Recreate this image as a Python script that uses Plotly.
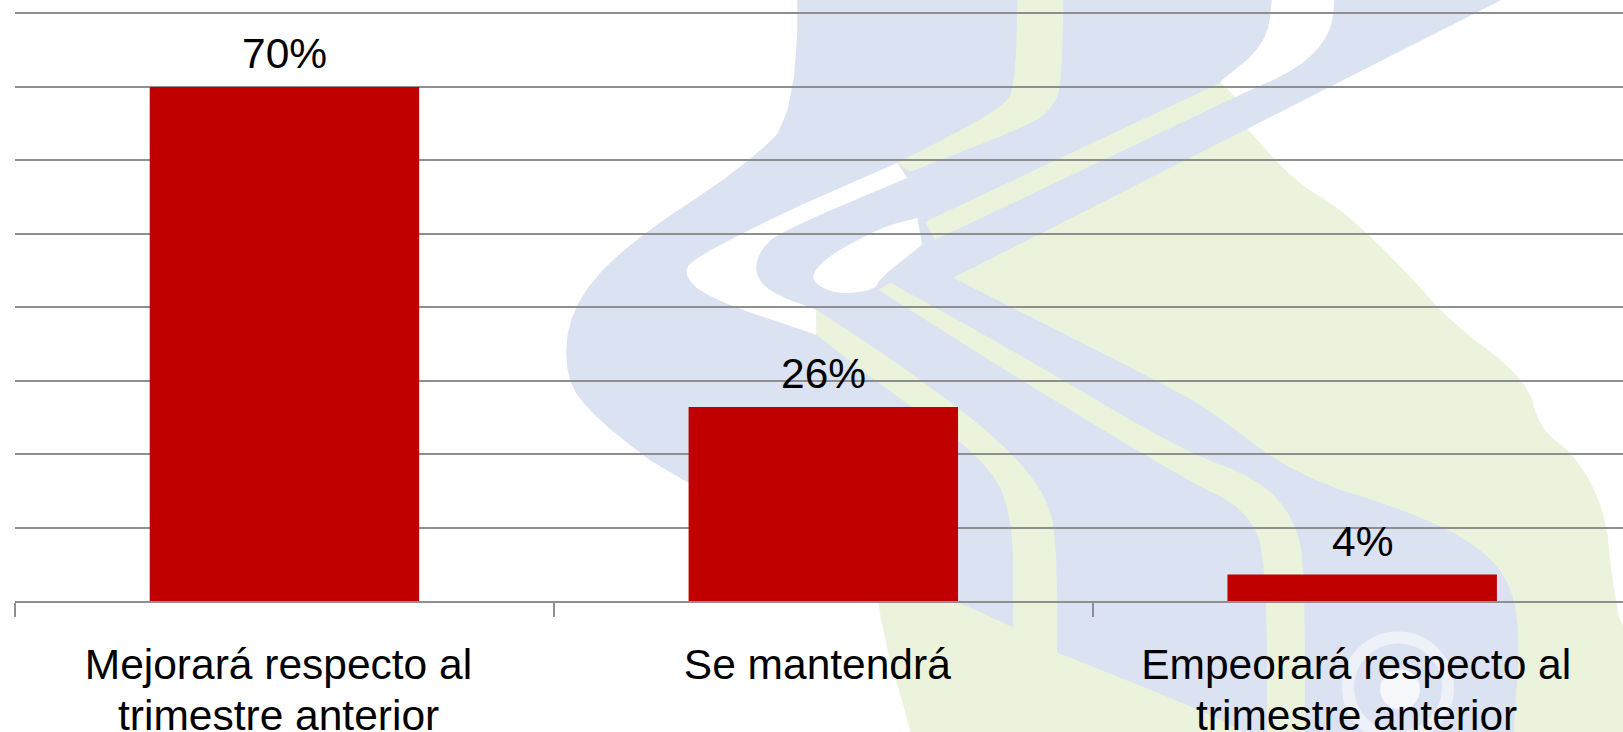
import plotly.graph_objects as go

# --- data -------------------------------------------------------------
categories = ["Mejorará respecto al", "Se mantendrá", "Empeorará respecto al"]
second_lines = ["trimestre anterior", "", "trimestre anterior"]
values = [70, 26.4, 3.6]
value_labels = ["70%", "26%", "4%"]

# --- layout constants ---------------------------------------------------
W, H = 1623, 732
L, R, T, B = 14.5, 0, 12.03, 130.5
BLUE, GREEN, WHITE = "#DBE2F1", "#EBF3DC", "#FFFFFF"
FONT = dict(size=42.5, color="#000000", family="Liberation Sans")
LINE = "#8F8F8F"


def to_paper(px, py):
    """page pixels -> paper fractions (background watermark only)"""
    return (px - L) / (W - L - R), 1 - (py - T) / (H - T - B)


def chaikin(points, rounds=2):
    for _ in range(rounds):
        out = []
        n = len(points)
        for i in range(n):
            (x0, y0), (x1, y1) = points[i], points[(i + 1) % n]
            out.append((0.75 * x0 + 0.25 * x1, 0.75 * y0 + 0.25 * y1))
            out.append((0.25 * x0 + 0.75 * x1, 0.25 * y0 + 0.75 * y1))
        points = out
    return points


def poly(points, color):
    path = []
    for i, (px, py) in enumerate(chaikin(points)):
        x, y = to_paper(px, py)
        path.append(("M" if i == 0 else "L") + f"{x:.5f},{y:.5f}")
    return dict(type="path", xref="paper", yref="paper", layer="below",
                path=" ".join(path) + " Z", fillcolor=color, line_width=0)


green_body = [(1240, 120), (1240, 120), (1247, 129), (1247, 129), (1294, 181), (1345, 212), (1408, 274), (1449, 321),
              (1527, 380), (1540, 430), (1575, 455), (1605, 510), (1612, 580), (1623, 640), (1700, 680), (1700, 800),
              (925, 800), (911, 732), (875, 610), (860, 400), (1000, 200)]
blue_all = [(797, -100), (797, -100), (797, 114), (745, 166), (621, 248), (569, 310), (564, 378), (595, 419),
            (683, 486), (957, 602), (1013, 628), (1013, 628), (1057, 653), (1057, 653), (1207, 713), (1267, 745),
            (1267, 800), (1513, 800), (1513, 732), (1520, 647), (1513, 587), (1480, 547), (1413, 513), (1297, 477),
            (1213, 413), (1180, 393), (953, 278), (953, 278), (953, 278), (1247, 129), (1247, 129), (1501, 0),
            (1700, -100), (1700, -100)]
stripe_top = [(1017, -100), (1017, -100), (1063, -100), (1063, -100), (1063, 85), (1050, 110), (1030, 125),
              (910, 172), (910, 172), (897, 163), (897, 163), (1000, 110), (1017, 85)]
stripe_diag = [(1222, 82), (1222, 82), (1240, 95), (1240, 95), (935, 240), (935, 240), (925, 222), (925, 222)]
stripe_low_1 = [(816, 310), (816, 310), (900, 365), (1000, 440), (1050, 500), (1057, 560), (1057, 660), (1057, 660),
                (1013, 635), (1013, 635), (1013, 510), (980, 455), (880, 385), (816, 335), (816, 335)]
stripe_low_2 = [(878, 290), (878, 290), (1020, 380), (1180, 477), (1247, 510), (1267, 560), (1267, 800), (1267, 800),
                (1305, 800), (1305, 800), (1305, 570), (1295, 520), (1260, 480), (1180, 450), (1020, 355), (890, 283),
                (890, 283)]
white_gap_1 = [(897, 163), (897, 163), (907, 178), (907, 178), (780, 232), (760, 250), (754, 272), (768, 292),
               (816, 310), (816, 310), (816, 335), (816, 335), (706, 298), (681, 272), (700, 255), (785, 212)]
white_gap_2 = [(917, 218), (917, 218), (922, 245), (922, 245), (880, 278), (875, 290), (840, 295), (815, 285),
               (812, 273), (830, 255), (880, 228)]
white_gap_3 = [(1273, -100), (1273, -100), (1335, -100), (1335, -100), (1335, 0), (1330, 35), (1300, 68), (1235, 97),
               (1235, 97), (1220, 82), (1220, 82), (1265, 45), (1273, 0)]

shapes = [poly(green_body, GREEN), poly(blue_all, BLUE), poly(stripe_top, GREEN), poly(stripe_diag, GREEN),
          poly(stripe_low_1, GREEN), poly(stripe_low_2, GREEN), poly(white_gap_1, WHITE), poly(white_gap_2, WHITE),
          poly(white_gap_3, WHITE)]


def circle(cx, cy, r, color, line=None, lw=0):
    x0, y0 = to_paper(cx - r, cy + r)
    x1, y1 = to_paper(cx + r, cy - r)
    return dict(type="circle", xref="paper", yref="paper", layer="below", x0=x0, x1=x1, y0=y0, y1=y1,
                fillcolor=color, line=dict(color=line or color, width=lw))


shapes.append(circle(1398, 688, 50, "rgba(0,0,0,0)", "#EEF1F8", 12))
shapes.append(circle(1400, 690, 20, "#F6F8FB", "#F6F8FB", 0))

fig = go.Figure(go.Bar(
    x=categories, y=values, width=0.5,
    marker=dict(color="#C00000", line_width=0),
    hoverinfo="skip",
))

annotations = [
    dict(x=cat, y=-0.194, xref="x", yref="paper", text=line, showarrow=False, xshift=-6, yanchor="middle", font=FONT)
    for cat, line in zip(categories, second_lines) if line
] + [
    dict(x=cat, y=val, xref="x", yref="y", text=lab, showarrow=False, yanchor="bottom", yshift=8, font=FONT)
    for cat, val, lab in zip(categories, values, value_labels)
]

fig.update_layout(
    width=W, height=H, margin=dict(l=L, r=R, t=T, b=B, autoexpand=False),
    paper_bgcolor="white", plot_bgcolor="rgba(0,0,0,0)", showlegend=False,
    shapes=shapes, annotations=annotations,
    font=dict(family="Liberation Sans", color="#000000"),
    xaxis=dict(type="category", categoryorder="array", categoryarray=categories,
               range=[-0.5, 2.484], tickson="boundaries", ticks="outside", ticklen=14, tickwidth=1.5,
               tickcolor=LINE, showline=True, linecolor=LINE, linewidth=2, showgrid=False,
               tickfont=FONT, ticklabelstandoff=25, ticklabelshift=-6),
    yaxis=dict(range=[0, 80.2], dtick=10, showgrid=True, gridcolor=LINE, gridwidth=2,
               showticklabels=False, ticks="", zeroline=False, showline=False),
)

fig.write_html("out.html", config=dict(displayModeBar=False),
               post_script="document.body.style.margin='0';document.body.style.overflow='hidden';")
